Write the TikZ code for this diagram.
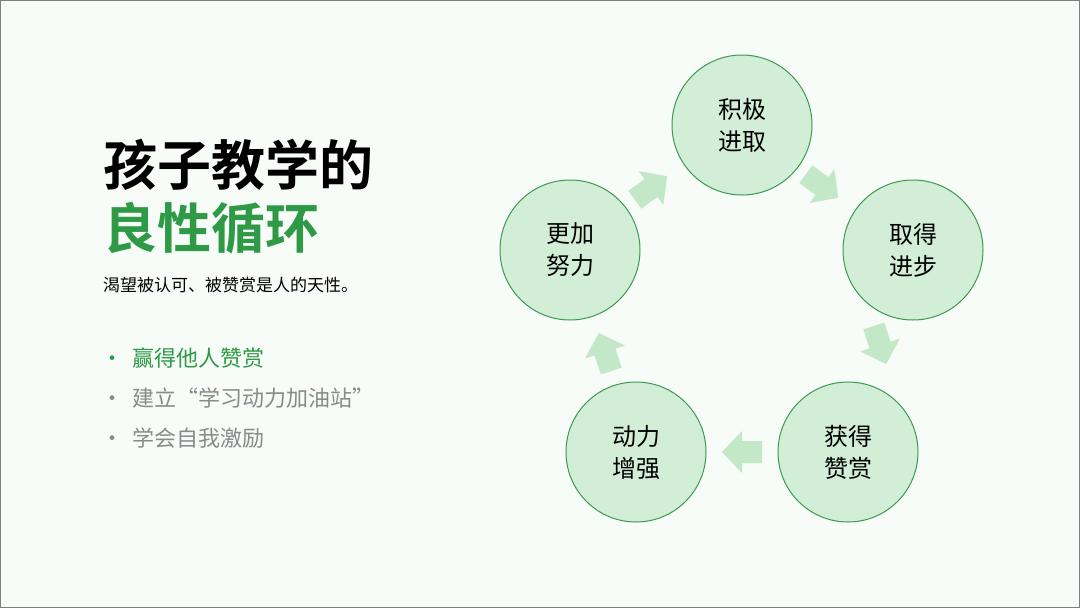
\documentclass[tikz,border=0pt]{standalone}
\usepackage{fontspec}
\setmainfont{Noto Sans CJK SC}
\newfontfamily\cjkb{Noto Sans CJK SC Bold}
\definecolor{bg}{HTML}{F7FCF8}
\definecolor{cfill}{HTML}{D3EED6}
\definecolor{cline}{HTML}{3A9A4F}
\definecolor{afill}{HTML}{C3E8C8}
\definecolor{tgreen}{HTML}{2E9A45}
\definecolor{tgray}{HTML}{8A8A8A}
\tikzset{
 stage/.style={circle,draw=cline,line width=1pt,fill=cfill,minimum size=140pt,align=center,font=\fontsize{24}{32}\selectfont,text=black},
 bul/.style={anchor=west,font=\fontsize{22}{24}\selectfont}
}
\newcommand{\flowarrow}[3]{\fill[afill,shift={(#1,#2)},rotate=#3] (-20,-11) -- (0,-11) -- (0,-21) -- (20,0) -- (0,21) -- (0,11) -- (-20,11) -- cycle;}
\begin{document}
\begin{tikzpicture}[x=1pt,y=-1pt]
\path[fill=bg,draw=gray] (0.5,0.5) rectangle (1079.5,607.5);
\useasboundingbox (0,0) rectangle (1080,608);
\node[anchor=west,font=\cjkb\fontsize{54}{60}\selectfont,inner sep=0pt] (t1) at (103,165) {孩子教学的};
\node[anchor=west,font=\cjkb\fontsize{54}{60}\selectfont,text=tgreen,inner sep=0pt] (t2) at (103,228) {良性循环};
\node[anchor=west,font=\fontsize{17}{20}\selectfont,inner sep=0pt] (sub) at (103,285) {渴望被认可、被赞赏是人的天性。};
\node[bul,text=tgreen] (b1) at (98,358) {•\hspace{9pt}赢得他人赞赏};
\node[bul,text=tgray] (b2) at (98,398) {•\hspace{9pt}建立“学习动力加油站”};
\node[bul,text=tgray] (b3) at (98,438) {•\hspace{9pt}学会自我激励};
\node[stage] (c1) at (742,125) {积极\\进取};
\node[stage] (c2) at (913,250) {取得\\进步};
\node[stage] (c3) at (848,452) {获得\\赞赏};
\node[stage] (c4) at (636,452) {动力\\增强};
\node[stage] (c5) at (570,250) {更加\\努力};
\flowarrow{651}{188}{36}
\flowarrow{822}{186}{-36}
\flowarrow{880}{345}{-72}
\flowarrow{742}{452}{180}
\flowarrow{605}{352}{108}
\end{tikzpicture}
\end{document}
